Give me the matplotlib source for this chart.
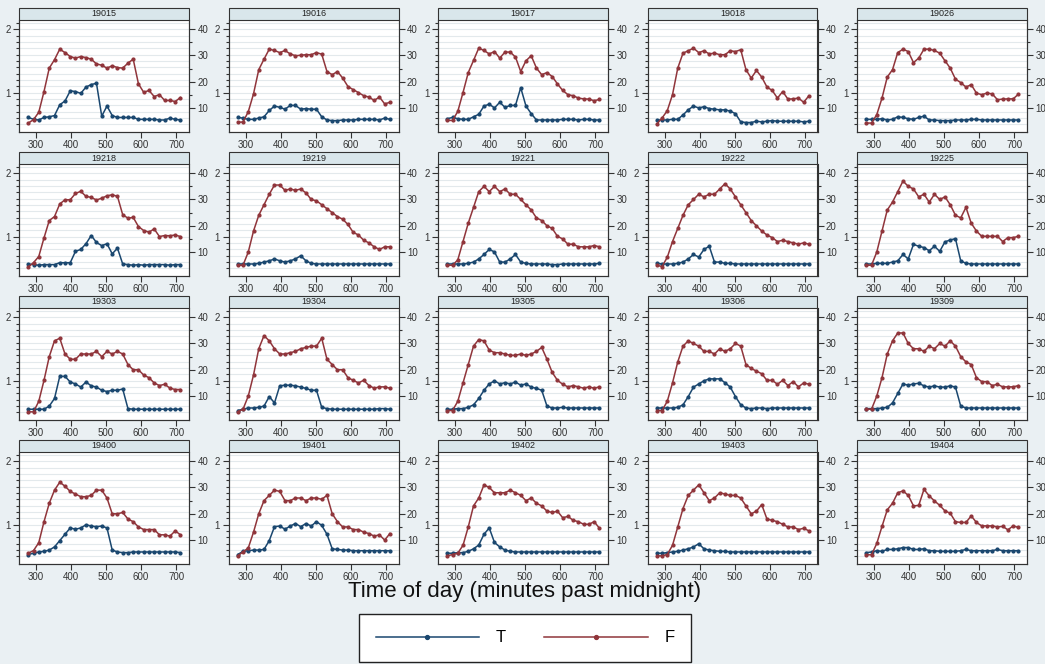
import numpy as np
import matplotlib
matplotlib.use('Agg')
import matplotlib.pyplot as plt
from matplotlib.patches import Rectangle

plt.rcParams['font.family'] = ['Liberation Sans', 'DejaVu Sans']

# time of day, midpoints of 15 minute bins
times = [277.5, 292.5, 307.5, 322.5, 337.5, 352.5, 367.5, 382.5, 397.5, 412.5,
         427.5, 442.5, 457.5, 472.5, 487.5, 502.5, 517.5, 532.5, 547.5, 562.5,
         577.5, 592.5, 607.5, 622.5, 637.5, 652.5, 667.5, 682.5, 697.5, 712.5]

panels = ['19015', '19016', '19017', '19018', '19026',
          '19218', '19219', '19221', '19222', '19225',
          '19303', '19304', '19305', '19306', '19309',
          '19400', '19401', '19402', '19403', '19404']

# T series (left axis)
t_series = [
    [0.61, 0.58, 0.57, 0.61, 0.62, 0.64, 0.81, 0.87, 1.03, 1.02, 0.99, 1.09, 1.13, 1.15, 0.63, 0.79, 0.64, 0.61, 0.61, 0.61, 0.61, 0.58, 0.58, 0.58, 0.58, 0.57, 0.57, 0.60, 0.58, 0.57],
    [0.61, 0.60, 0.58, 0.58, 0.60, 0.62, 0.72, 0.79, 0.77, 0.74, 0.80, 0.80, 0.74, 0.75, 0.74, 0.74, 0.62, 0.57, 0.56, 0.56, 0.57, 0.57, 0.57, 0.58, 0.58, 0.58, 0.58, 0.57, 0.60, 0.58],
    [0.59, 0.61, 0.59, 0.58, 0.58, 0.62, 0.66, 0.79, 0.82, 0.76, 0.85, 0.77, 0.80, 0.80, 1.08, 0.79, 0.67, 0.57, 0.57, 0.57, 0.57, 0.57, 0.58, 0.58, 0.58, 0.57, 0.58, 0.58, 0.57, 0.57],
    [0.57, 0.57, 0.57, 0.58, 0.58, 0.65, 0.73, 0.79, 0.76, 0.78, 0.75, 0.74, 0.73, 0.73, 0.71, 0.67, 0.54, 0.53, 0.53, 0.55, 0.54, 0.55, 0.56, 0.55, 0.55, 0.55, 0.55, 0.55, 0.54, 0.55],
    [0.58, 0.58, 0.58, 0.59, 0.57, 0.58, 0.62, 0.61, 0.59, 0.58, 0.61, 0.63, 0.57, 0.57, 0.56, 0.56, 0.56, 0.57, 0.57, 0.57, 0.58, 0.58, 0.57, 0.57, 0.57, 0.57, 0.57, 0.57, 0.57, 0.57],
    [0.57, 0.56, 0.55, 0.56, 0.56, 0.56, 0.59, 0.59, 0.59, 0.77, 0.80, 0.89, 1.02, 0.91, 0.86, 0.89, 0.73, 0.82, 0.57, 0.56, 0.55, 0.56, 0.55, 0.56, 0.56, 0.56, 0.56, 0.55, 0.56, 0.56],
    [0.57, 0.57, 0.57, 0.57, 0.58, 0.60, 0.62, 0.65, 0.62, 0.60, 0.62, 0.65, 0.70, 0.62, 0.58, 0.57, 0.57, 0.57, 0.57, 0.57, 0.57, 0.57, 0.57, 0.57, 0.57, 0.57, 0.57, 0.57, 0.57, 0.57],
    [0.57, 0.57, 0.57, 0.57, 0.58, 0.60, 0.65, 0.72, 0.80, 0.76, 0.60, 0.60, 0.65, 0.72, 0.60, 0.58, 0.57, 0.57, 0.57, 0.57, 0.56, 0.56, 0.57, 0.57, 0.57, 0.57, 0.57, 0.57, 0.57, 0.58],
    [0.58, 0.57, 0.57, 0.57, 0.58, 0.60, 0.65, 0.72, 0.68, 0.80, 0.85, 0.60, 0.60, 0.58, 0.58, 0.57, 0.57, 0.57, 0.57, 0.57, 0.57, 0.57, 0.57, 0.57, 0.57, 0.57, 0.57, 0.57, 0.57, 0.57],
    [0.57, 0.57, 0.58, 0.58, 0.58, 0.60, 0.62, 0.72, 0.65, 0.88, 0.85, 0.83, 0.78, 0.85, 0.77, 0.92, 0.95, 0.97, 0.62, 0.58, 0.57, 0.57, 0.57, 0.57, 0.57, 0.57, 0.57, 0.57, 0.57, 0.57],
    [0.55, 0.55, 0.55, 0.55, 0.60, 0.72, 1.07, 1.07, 0.98, 0.95, 0.90, 0.98, 0.92, 0.90, 0.85, 0.83, 0.85, 0.85, 0.87, 0.56, 0.55, 0.55, 0.55, 0.55, 0.55, 0.55, 0.55, 0.55, 0.55, 0.55],
    [0.53, 0.55, 0.57, 0.57, 0.58, 0.60, 0.75, 0.65, 0.92, 0.93, 0.93, 0.92, 0.90, 0.88, 0.85, 0.85, 0.58, 0.56, 0.55, 0.55, 0.55, 0.55, 0.55, 0.55, 0.55, 0.55, 0.55, 0.56, 0.56, 0.55],
    [0.55, 0.55, 0.56, 0.56, 0.58, 0.62, 0.72, 0.85, 0.95, 1.00, 0.95, 0.97, 0.95, 0.98, 0.93, 0.95, 0.90, 0.88, 0.85, 0.60, 0.57, 0.57, 0.58, 0.57, 0.57, 0.57, 0.57, 0.57, 0.57, 0.57],
    [0.57, 0.57, 0.57, 0.57, 0.58, 0.62, 0.75, 0.90, 0.95, 1.00, 1.03, 1.03, 1.03, 0.97, 0.90, 0.75, 0.62, 0.57, 0.56, 0.57, 0.57, 0.56, 0.57, 0.57, 0.57, 0.57, 0.57, 0.57, 0.57, 0.57],
    [0.56, 0.56, 0.56, 0.57, 0.58, 0.65, 0.80, 0.95, 0.93, 0.95, 0.96, 0.92, 0.90, 0.92, 0.90, 0.90, 0.92, 0.90, 0.60, 0.57, 0.57, 0.57, 0.57, 0.57, 0.57, 0.57, 0.57, 0.57, 0.57, 0.57],
    [0.53, 0.55, 0.57, 0.58, 0.60, 0.65, 0.75, 0.85, 0.95, 0.93, 0.95, 1.00, 0.98, 0.97, 0.98, 0.95, 0.60, 0.57, 0.56, 0.56, 0.57, 0.57, 0.57, 0.57, 0.57, 0.57, 0.57, 0.57, 0.57, 0.56],
    [0.53, 0.58, 0.59, 0.60, 0.60, 0.61, 0.75, 0.97, 0.98, 0.93, 0.98, 1.02, 0.97, 1.02, 0.98, 1.05, 0.99, 0.85, 0.62, 0.61, 0.60, 0.60, 0.59, 0.59, 0.59, 0.59, 0.59, 0.59, 0.59, 0.59],
    [0.55, 0.55, 0.56, 0.56, 0.58, 0.62, 0.68, 0.85, 0.95, 0.72, 0.65, 0.60, 0.58, 0.57, 0.57, 0.57, 0.57, 0.57, 0.57, 0.57, 0.57, 0.57, 0.57, 0.57, 0.57, 0.57, 0.57, 0.57, 0.57, 0.57],
    [0.55, 0.55, 0.56, 0.57, 0.58, 0.60, 0.62, 0.65, 0.70, 0.62, 0.60, 0.59, 0.58, 0.58, 0.57, 0.57, 0.57, 0.57, 0.57, 0.57, 0.57, 0.57, 0.57, 0.57, 0.57, 0.57, 0.57, 0.57, 0.57, 0.57],
    [0.56, 0.57, 0.59, 0.58, 0.61, 0.61, 0.62, 0.64, 0.64, 0.61, 0.61, 0.62, 0.59, 0.59, 0.58, 0.58, 0.58, 0.58, 0.59, 0.61, 0.59, 0.59, 0.59, 0.59, 0.59, 0.61, 0.59, 0.59, 0.59, 0.59],
]

# F series (right axis)
f_series = [
    [4.3, 5.6, 8.4, 16.3, 25.2, 28.4, 32.4, 31.1, 29.6, 29.0, 29.6, 29.2, 28.6, 26.8, 26.3, 25.2, 26.1, 25.4, 25.2, 27.1, 28.6, 19.2, 16.0, 16.7, 14.4, 15.1, 12.9, 12.9, 12.5, 14.0],
    [4.6, 4.7, 8.6, 15.4, 24.6, 28.6, 32.4, 31.9, 31.1, 31.9, 30.6, 29.9, 30.1, 30.3, 30.3, 31.1, 30.5, 23.9, 22.7, 23.9, 21.4, 18.2, 17.0, 15.9, 14.7, 14.2, 12.9, 14.2, 11.6, 12.2],
    [5.3, 5.3, 8.7, 15.9, 23.5, 28.1, 32.8, 31.9, 30.6, 31.5, 29.0, 31.3, 31.3, 29.4, 23.9, 28.0, 29.9, 25.2, 22.7, 23.5, 22.0, 19.2, 16.7, 15.1, 14.7, 13.8, 13.5, 13.4, 12.8, 13.3],
    [3.9, 6.2, 9.0, 15.1, 25.2, 30.9, 31.8, 32.8, 31.1, 31.8, 30.6, 30.9, 30.3, 30.3, 31.8, 31.5, 32.2, 24.6, 21.4, 24.3, 21.8, 18.0, 16.7, 13.8, 16.3, 13.4, 13.5, 13.8, 12.2, 14.7],
    [4.3, 4.3, 7.5, 13.8, 21.8, 24.6, 31.1, 32.4, 31.5, 27.3, 29.0, 32.4, 32.4, 31.9, 30.9, 28.0, 25.2, 21.0, 19.7, 18.0, 18.9, 15.7, 15.1, 15.7, 15.4, 13.2, 13.4, 13.5, 13.5, 15.3],
    [4.3, 6.0, 8.3, 15.4, 22.0, 23.5, 28.3, 29.9, 29.9, 32.3, 33.1, 31.2, 30.8, 29.8, 30.5, 31.4, 31.8, 31.2, 24.2, 22.9, 23.2, 19.7, 18.2, 17.6, 18.8, 15.9, 16.3, 16.2, 16.5, 15.9],
    [5.0, 5.0, 10.0, 18.0, 24.0, 28.0, 32.0, 35.5, 35.5, 33.5, 34.0, 33.5, 34.0, 32.5, 30.0, 29.5, 28.0, 26.5, 25.0, 23.5, 22.5, 20.5, 17.5, 16.5, 14.5, 13.5, 12.0, 11.0, 12.0, 12.0],
    [5.0, 5.0, 7.0, 14.0, 21.0, 27.0, 33.0, 35.0, 33.0, 35.0, 33.0, 34.0, 32.0, 32.0, 30.0, 28.0, 26.0, 23.0, 22.0, 20.0, 19.0, 16.0, 15.0, 13.0, 13.0, 12.0, 12.0, 12.0, 12.5, 12.0],
    [5.0, 4.5, 8.0, 14.0, 19.0, 24.0, 28.0, 30.0, 32.0, 31.0, 32.0, 32.0, 34.0, 36.0, 34.0, 31.0, 28.0, 25.0, 22.0, 20.0, 18.0, 16.5, 15.5, 14.0, 14.5, 14.0, 13.5, 13.0, 13.5, 13.0],
    [5.0, 5.0, 10.0, 18.0, 26.0, 29.0, 33.0, 37.0, 35.0, 34.0, 31.0, 32.0, 29.0, 32.0, 30.0, 31.0, 28.0, 24.0, 23.0, 27.0, 21.0, 18.0, 16.0, 16.0, 16.0, 16.0, 14.0, 15.5, 15.5, 16.0],
    [4.0, 4.0, 8.0, 16.0, 25.0, 31.0, 32.0, 26.0, 24.0, 24.0, 26.0, 26.0, 26.0, 27.0, 25.0, 27.0, 26.0, 27.0, 26.0, 22.0, 20.0, 20.0, 18.0, 17.0, 15.0, 14.0, 14.5, 13.0, 12.5, 12.5],
    [4.0, 5.0, 10.0, 18.0, 28.0, 33.0, 31.0, 28.0, 26.0, 26.0, 26.5, 27.0, 28.0, 28.5, 29.0, 29.0, 32.0, 24.0, 22.0, 20.0, 20.0, 17.0, 16.0, 15.0, 16.0, 14.0, 13.0, 13.5, 13.5, 13.0],
    [4.5, 4.5, 8.0, 15.0, 22.0, 29.0, 31.5, 31.0, 27.5, 26.5, 26.5, 26.0, 25.5, 25.5, 26.0, 25.5, 26.0, 27.0, 28.5, 24.0, 19.0, 16.0, 14.5, 13.5, 14.0, 13.5, 13.0, 13.5, 13.0, 13.5],
    [4.5, 4.5, 8.0, 15.0, 23.0, 29.0, 31.0, 30.0, 29.0, 27.0, 27.0, 26.0, 28.0, 27.0, 28.0, 30.0, 29.0, 22.0, 20.5, 19.5, 18.5, 16.0, 16.0, 14.5, 16.0, 14.0, 15.5, 13.5, 15.0, 14.5],
    [5.0, 5.0, 10.0, 17.0, 26.0, 31.0, 34.0, 34.0, 30.0, 28.0, 28.0, 27.0, 29.0, 28.0, 30.0, 29.0, 31.0, 29.0, 25.0, 23.0, 22.0, 17.0, 15.5, 15.5, 14.0, 14.5, 13.5, 13.5, 13.5, 14.0],
    [5.0, 6.0, 9.0, 17.0, 24.0, 29.0, 32.0, 30.5, 28.5, 27.5, 26.5, 26.5, 27.0, 29.0, 29.0, 26.0, 20.0, 20.0, 20.5, 18.0, 17.0, 15.0, 14.0, 14.0, 14.0, 12.0, 12.0, 11.5, 13.5, 12.0],
    [4.0, 5.5, 7.0, 13.0, 20.0, 25.0, 27.0, 29.0, 28.5, 25.0, 25.0, 26.0, 26.0, 25.0, 26.0, 26.0, 25.5, 27.0, 20.0, 17.0, 15.0, 15.0, 14.0, 14.0, 13.0, 12.5, 11.5, 12.0, 10.0, 12.5],
    [4.0, 4.5, 5.0, 8.0, 15.0, 23.0, 26.0, 31.0, 30.0, 28.0, 28.0, 28.0, 29.0, 28.0, 27.0, 25.0, 26.0, 24.0, 23.0, 21.0, 20.5, 21.0, 18.5, 19.0, 17.5, 17.0, 16.0, 16.0, 17.0, 14.5],
    [4.0, 4.0, 4.5, 8.0, 15.0, 22.0, 27.0, 29.0, 31.0, 28.0, 25.0, 26.0, 28.0, 27.5, 27.0, 27.0, 26.0, 23.0, 20.0, 21.0, 23.5, 18.0, 17.5, 17.0, 16.0, 15.0, 15.0, 14.0, 14.5, 13.5],
    [4.4, 4.4, 8.7, 15.2, 21.5, 24.0, 28.0, 28.7, 27.0, 23.0, 23.2, 29.3, 26.8, 24.9, 23.2, 21.1, 20.2, 17.0, 16.7, 16.7, 19.2, 16.7, 15.4, 15.4, 15.4, 15.0, 15.2, 13.9, 15.4, 14.8],
]

W, H = 1045, 664
bg = '#eaf0f3'
blue = '#1a476f'
red = '#90353b'
dark = '#333333'

fig = plt.figure(figsize=(W / 100, H / 100), dpi=100, facecolor=bg)

for i, pid in enumerate(panels):
    r, c = i // 5, i % 5
    left = (19 + 209.5 * c) / W
    bottom = 1 - (132 + 144 * r) / H
    ax = fig.add_axes([left, bottom, 170 / W, 112 / H])
    ax.set_facecolor('white')
    ax2 = ax.twinx()

    lt, = ax.plot(times, t_series[i], color=blue, lw=1.1, marker='o', ms=2.0, zorder=3)
    lf, = ax2.plot(times, f_series[i], color=red, lw=1.1, marker='o', ms=2.0, zorder=3)

    ax.set_xlim(251, 737)
    ax.set_ylim(0.38, 2.15)
    ax2.set_ylim(0.9, 43.5)

    ax.set_xticks([300, 400, 500, 600, 700])
    ax.set_yticks([1, 2])
    ax.set_yticks(np.arange(0.5, 2.11, 0.1), minor=True)
    ax2.set_yticks([10, 20, 30, 40])
    ax2.set_yticks([15, 25, 35], minor=True)

    ax.set_axisbelow(True)
    ax.grid(which='both', axis='y', color='#e3e9ec', lw=0.8)

    for a in (ax, ax2):
        a.tick_params(which='major', direction='out', length=4, width=0.8,
                      color=dark, labelsize=7, labelcolor=dark, pad=2)
        a.tick_params(which='minor', direction='out', length=2.5, width=0.8, color=dark)
        a.spines['top'].set_visible(False)
        for s in ('left', 'right', 'bottom'):
            a.spines[s].set_color(dark)
            a.spines[s].set_linewidth(0.8)

    # panel title bar
    bar_h = 12 / 112
    ax.add_patch(Rectangle((0, 1), 1, bar_h, transform=ax.transAxes, clip_on=False,
                           facecolor='#d9e6eb', edgecolor=dark, lw=0.8, zorder=5))
    ax.text(0.5, 1 + bar_h / 2, pid, transform=ax.transAxes, ha='center', va='center',
            fontsize=6.5, color='#222222', zorder=6)

fig.text(525 / W, 1 - 592 / H, 'Time of day (minutes past midnight)',
         ha='center', va='center', fontsize=16, color='#111111')

leg = fig.legend([lt, lf], ['T', 'F'], loc='center', bbox_to_anchor=(525 / W, 1 - 638 / H),
                 ncol=2, numpoints=1, fontsize=12, handlelength=6.2, handletextpad=1.0,
                 columnspacing=2.3, borderpad=1.0, fancybox=False, framealpha=1,
                 edgecolor='#222222', facecolor='white', markerscale=1.4)
leg.get_frame().set_linewidth(1.0)

plt.savefig('out.png', dpi=100, facecolor=bg)
